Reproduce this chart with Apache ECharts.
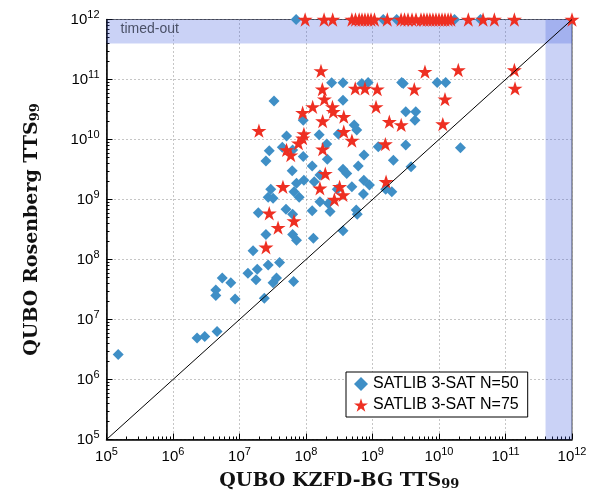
<!DOCTYPE html>
<html>
<head>
<meta charset="utf-8">
<script src="https://cdn.jsdelivr.net/npm/echarts@6/dist/echarts.min.js"></script>
<style>
  html, body { margin: 0; padding: 0; background: #fff; }
  #chart { width: 589px; height: 493px; }
</style>
</head>
<body>
<div id="chart"></div>
<script>
// TTS99 of the two QUBO reductions, one point per SATLIB instance
const TIMEOUT = 1e12;
const TIMEOUT_BAND = 4e11;

const n50Solved = [
  [1.5e5, 2.6e6], [2.3e6, 4.9e6], [3.0e6, 5.2e6], [4.6e6, 6.3e6], [4.4e6, 3.1e7],
  [4.4e6, 2.5e7], [5.5e6, 4.9e7], [7.4e6, 4.1e7], [8.6e6, 2.2e7], [1.34e7, 5.9e7],
  [1.6e7, 1.4e8], [1.85e7, 6.9e7], [1.77e7, 4.6e7], [2.36e7, 2.25e7], [2.8e7, 6.5e9],
  [2.5e7, 4.4e9], [4.4e7, 7.4e9], [9.1e7, 5.2e9], [6.2e7, 3.0e9], [2.05e8, 8.4e9],
  [2.09e8, 4.7e9], [1.24e8, 3.6e9], [1.62e8, 2.56e9], [7.45e8, 5.5e9], [6.1e8, 3.6e9],
  [3.6e8, 3.2e9], [4.1e8, 2.7e9], [1.22e9, 7.6e9], [2.06e9, 4.5e9], [9.3e7, 2.1e9],
  [7.2e7, 1.86e9], [6.6e7, 1.35e9], [1.33e8, 1.98e9], [2.95e7, 1.48e9], [2.7e7, 1.09e9],
  [3.2e7, 1.05e9], [7.9e7, 1.09e9], [4.9e8, 1.63e9], [2.95e8, 1.48e9], [7.4e8, 2.1e9],
  [7.3e8, 1.24e9], [9.0e8, 1.75e9], [1.58e9, 1.48e9], [1.95e9, 1.35e9], [1.62e8, 9.2e8],
  [2.17e8, 8.6e8], [2.3e8, 6.3e8], [1.24e8, 6.5e8], [5.0e7, 6.9e8], [6.3e7, 5.7e8],
  [1.92e7, 6.0e8], [2.5e7, 2.6e8], [6.3e7, 2.6e8], [7.2e7, 2.1e8], [1.29e8, 2.25e8],
  [3.6e8, 3.0e8], [5.7e8, 6.7e8], [5.9e8, 5.7e8], [2.7e7, 8.1e7], [4.0e7, 8.9e7],
  [3.6e7, 4.9e7], [3.2e7, 4.1e7], [6.5e7, 4.3e7], [2.43e8, 8.8e10], [3.6e8, 8.8e10],
  [3.3e7, 4.4e10], [3.6e8, 4.5e10], [9.1e7, 2.1e10], [5.3e8, 1.75e10], [5.8e8, 1.44e10],
  [5.1e7, 1.14e10], [1.58e8, 1.2e10], [3.06e8, 1.24e10], [6.3e7, 6.7e9], [2.75e9, 8.9e10],
  [2.9e9, 8.6e10], [9.4e9, 8.9e10], [1.26e10, 8.9e10], [6.9e8, 8.6e10], [8.6e8, 8.9e10],
  [3.16e9, 2.9e10], [4.47e9, 2.9e10], [4.35e9, 2.1e10], [3.16e9, 8.1e9], [2.1e10, 7.3e9],
  [3.8e9, 3.5e9]
];
const n50TimedOutX = [7.1e7, 1.45e9, 2.31e9, 1.71e10, 4.2e10];

const n75Solved = [
  [5.1e7, 6.7e9], [5.9e7, 5.5e9], [7.7e7, 8.7e9], [1.78e8, 6.9e9], [1.95e8, 2.7e9],
  [4.9e8, 9.6e9], [1.56e9, 8.4e9], [4.5e7, 1.63e9], [1.62e8, 1.54e9], [3.2e8, 1.63e9],
  [2.67e8, 1.0e9], [3.6e8, 1.19e9], [1.6e9, 1.98e9], [2.8e7, 5.9e8], [6.6e7, 4.4e8],
  [3.8e7, 3.4e8], [2.5e7, 1.6e8], [1.68e8, 1.39e11], [5.5e8, 7.1e10], [1.76e8, 6.9e10],
  [1.89e8, 4.7e10], [1.26e8, 3.5e10], [2.5e8, 3.5e10], [2.57e8, 2.9e10], [8.9e7, 2.8e10],
  [3.7e8, 2.4e10], [1.78e8, 2.03e10], [1.96e7, 1.4e10], [9.3e7, 1.24e10], [8.9e7, 1.05e10],
  [3.7e8, 1.35e10], [6.15e9, 1.35e11], [1.95e10, 1.44e11], [7.7e8, 7.1e10], [1.18e9, 6.9e10],
  [4.25e9, 6.9e10], [1.23e10, 4.7e10], [1.13e9, 3.5e10], [1.79e9, 1.98e10], [2.7e9, 1.75e10],
  [1.14e10, 1.81e10], [1.36e11, 1.44e11], [1.39e11, 7.1e10]
];
const n75TimedOutX = [
  9.7e7, 1.87e8, 2.52e8, 4.9e8, 5.55e8, 6.3e8, 6.95e8, 7.7e8, 8.55e8, 9.5e8,
  1.07e9, 1.67e9, 2.69e9, 3.03e9, 3.42e9, 3.93e9, 4.51e9, 5.36e9, 5.94e9, 6.6e9,
  7.3e9, 8.1e9, 9.0e9, 1.0e10, 1.11e10, 1.23e10, 1.37e10, 1.51e10, 2.76e10, 4.6e10,
  6.8e10, 1.36e11, 1e12
];

const axisRange = [1e5, 1e12];
const tickExponents = [5, 6, 7, 8, 9, 10, 11, 12];
const seriesNames = ['SATLIB 3-SAT N=50', 'SATLIB 3-SAT N=75'];

const STAR = 'path://M50,0L61.2,34.5L97.6,34.5L68.2,55.9L79.4,90.5L50,69.1L20.6,90.5L31.8,55.9L2.4,34.5L38.8,34.5Z';
const BLUE = '#3f8fc6';
const RED = '#ee2f22';

const minorValues = [];
tickExponents.slice(0, -1).forEach(e => {
  for (let m = 2; m <= 9; m++) minorValues.push(m * Math.pow(10, e));
});

function powLabel(value) {
  const e = tickExponents.find(k => Math.abs(Math.log10(value) - k) < 1e-6);
  return e === undefined ? '' : '{b|10}{sup|' + e + '}';
}

const labelRich = {
  b: { fontFamily: 'Liberation Sans', fontSize: 15, color: '#000' },
  sup: { fontFamily: 'Liberation Sans', fontSize: 11, color: '#000', padding: [0, 0, 9, 0] }
};
const nameRich = {
  n: { fontFamily: 'DejaVu Serif', fontWeight: 'bold', fontSize: 19, color: '#111' },
  sub: { fontFamily: 'DejaVu Serif', fontWeight: 'bold', fontSize: 13, color: '#111', padding: [8, 0, 0, 0] }
};

function mainAxis(name, nameGap) {
  return {
    type: 'log', logBase: 10, min: axisRange[0], max: axisRange[1], splitNumber: 7,
    name: '{n|' + name + '}{sub|99}', nameLocation: 'middle', nameGap,
    nameTextStyle: { rich: nameRich },
    axisLine: { lineStyle: { color: '#000', width: 1.5 } },
    axisTick: { inside: true, length: 6, lineStyle: { color: '#000' } },
    axisLabel: { formatter: powLabel, rich: labelRich, margin: 7 },
    splitLine: { show: true, lineStyle: { color: '#8c8c8c', type: [1, 3], width: 1 } }
  };
}
function minorAxis() {
  return {
    type: 'log', logBase: 10, min: axisRange[0], max: axisRange[1],
    axisLine: { show: false },
    axisLabel: { show: false },
    splitLine: { show: false },
    axisTick: { show: true, inside: true, length: 3, customValues: minorValues, lineStyle: { color: '#000' } }
  };
}

const chart = echarts.init(document.getElementById('chart'));
chart.setOption({
  animation: false,
  backgroundColor: '#fff',
  grid: {
    left: 106.5, right: 17, top: 19.5, bottom: 53.5, outerBoundsMode: 'none',
    show: true, borderColor: '#444', borderWidth: 1
  },
  xAxis: [Object.assign(mainAxis('QUBO KZFD-BG TTS', 31), { position: 'bottom' }),
          Object.assign(minorAxis(), { position: 'bottom' })],
  yAxis: [Object.assign(mainAxis('QUBO Rosenberg TTS', 64), { position: 'left' }),
          Object.assign(minorAxis(), { position: 'left' })],
  legend: {
    orient: 'vertical', left: 346, top: 372,
    padding: [4, 9, 4, 8], itemGap: 5, itemWidth: 14, itemHeight: 14,
    borderColor: '#000', borderWidth: 1, backgroundColor: '#fff',
    textStyle: { fontFamily: 'Liberation Sans', fontSize: 16, color: '#000' },
    data: seriesNames
  },
  series: [
    {
      type: 'line', silent: true, symbol: 'none',
      data: [[axisRange[0], axisRange[0]], [axisRange[1], axisRange[1]]],
      lineStyle: { color: '#000', width: 1 },
      markArea: {
        silent: true,
        itemStyle: { color: 'rgba(60, 90, 220, 0.27)' },
        data: [
          [{ xAxis: axisRange[0], yAxis: TIMEOUT_BAND,
             label: { show: true, position: 'insideLeft', distance: 14, formatter: 'timed-out',
                      fontFamily: 'Liberation Sans', fontSize: 14, color: '#4a5066', offset: [0, -2] } },
           { xAxis: axisRange[1], yAxis: TIMEOUT }],
          [{ xAxis: TIMEOUT_BAND, yAxis: axisRange[0] }, { xAxis: axisRange[1], yAxis: TIMEOUT }]
        ]
      }
    },
    {
      name: seriesNames[0], type: 'scatter', clip: false,
      symbol: 'diamond', symbolSize: 11,
      itemStyle: { color: BLUE, opacity: 1 },
      data: n50Solved.concat(n50TimedOutX.map(x => [x, TIMEOUT]))
    },
    {
      name: seriesNames[1], type: 'scatter', clip: false,
      symbol: STAR, symbolSize: 15, symbolKeepAspect: true,
      itemStyle: { color: RED, opacity: 1 },
      data: n75Solved.concat(n75TimedOutX.map(x => [x, TIMEOUT]))
    }
  ]
});
</script>
</body>
</html>
